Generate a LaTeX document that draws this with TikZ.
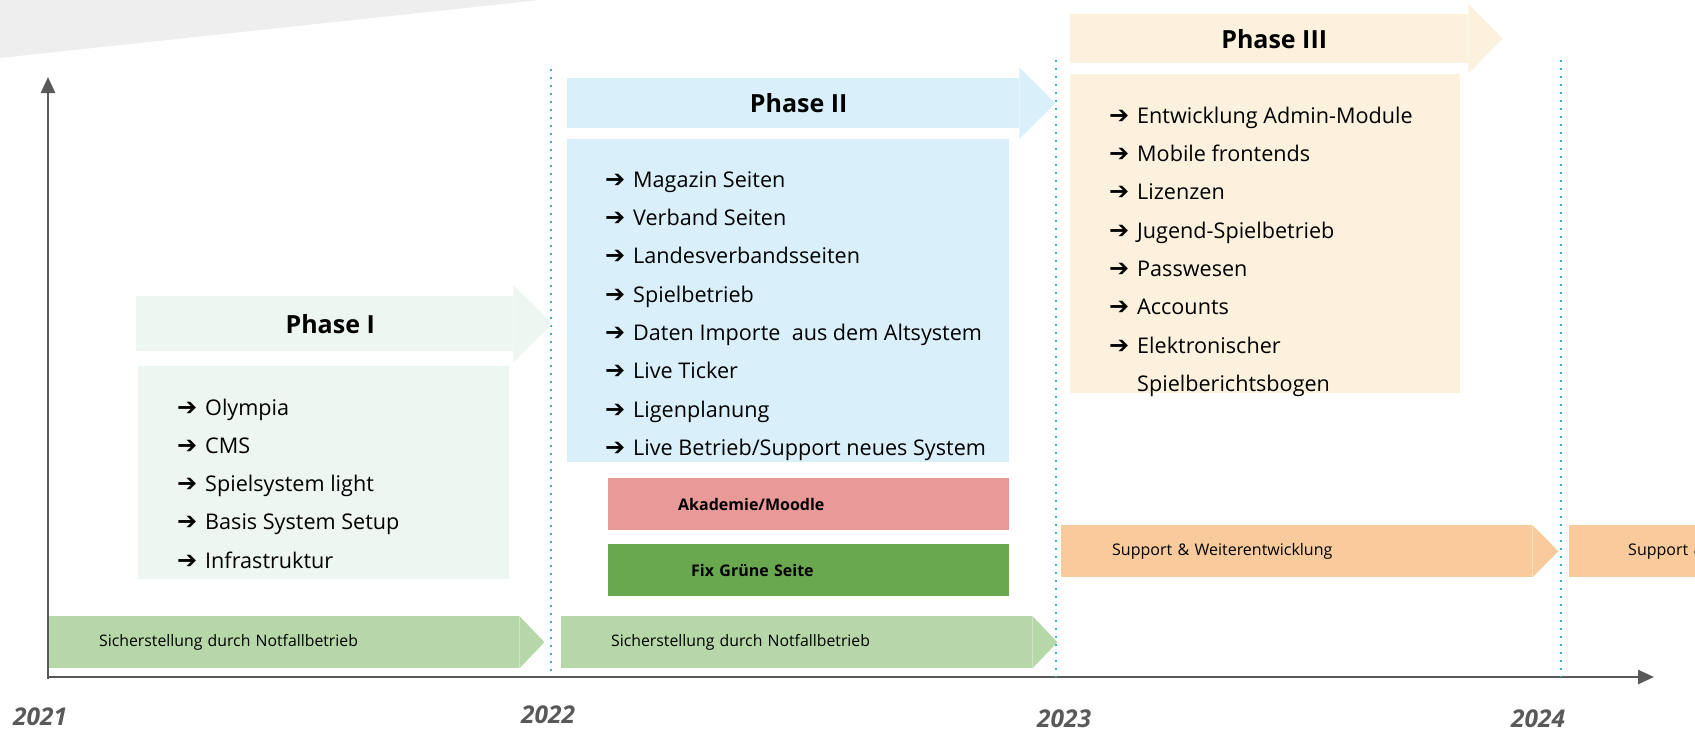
\documentclass[tikz,border=0pt]{standalone}
\usepackage{fontspec}
\setmainfont{Open Sans}
\newfontfamily\arrowfont{DejaVu Sans}
\usetikzlibrary{arrows.meta, positioning, calc}

\definecolor{phone}{HTML}{EDF6F0}
\definecolor{phtwo}{HTML}{D9F0FA}
\definecolor{phthree}{HTML}{FCF1DC}
\definecolor{akad}{HTML}{EA9999}
\definecolor{fixgreen}{HTML}{6AA84F}
\definecolor{sicher}{HTML}{B6D7A8}
\definecolor{support}{HTML}{F9CB9C}
\definecolor{axisgray}{HTML}{595959}
\definecolor{dotcol}{HTML}{31B6C5}
\definecolor{topgray}{HTML}{EEEEEE}

\newcommand{\pfeil}{\makebox[28pt][l]{\arrowfont\fontsize{24}{24}\selectfont ➔}}

\tikzset{
  phasehead/.style={inner sep=0, anchor=north west, font=\fontsize{25}{30}\selectfont\bfseries},
  phasebox/.style={inner sep=0, anchor=north west},
  entry/.style={anchor=base west, inner sep=0, font=\fontsize{21.6}{26}\selectfont},
  timebar/.style={anchor=north west, minimum height=52pt, inner ysep=0, align=left},
  barbold/.style={font=\fontsize{16}{19}\selectfont\bfseries},
  year/.style={anchor=base, font=\fontsize{24.5}{30}\selectfont\bfseries\itshape, text=axisgray},
  yearline/.style={dotcol, line width=2pt, dash pattern=on 2pt off 6pt},
  axis/.style={axisgray, line width=2.5pt, -{Triangle[length=16pt,width=14pt]}}
}

\begin{document}
\begin{tikzpicture}[x=1pt, y=-1pt]
  \useasboundingbox (0,0) rectangle (1695,731);
  \clip (0,0) rectangle (1695,731);

  % gray corner
  \fill[topgray] (0,0) -- (540,0) -- (0,58) -- cycle;

  % axes
  \coordinate (origin) at (48,679);
  \coordinate (ytop) at (48,77);
  \coordinate (xstart) at (47,677);
  \coordinate (xend) at (1654,677);
  \draw[axis] (origin) -- (ytop);
  \draw[axis] (xstart) -- (xend);

  % year separators
  \foreach \x/\top in {551/69, 1056/60, 1561/60} {
    \coordinate (s\x) at (\x,\top);
    \coordinate (e\x) at (\x,677);
    \draw[yearline] (s\x) -- (e\x);
  }

  % Phase I
  \node[phasehead, fill=phone, minimum width=377pt, minimum height=55pt] (ph1) at (136,296) {\hspace*{11pt}Phase I};
  \node[phasebox, fill=phone, minimum width=371pt, minimum height=213pt] (box1) at (138,366) {};
  \foreach \t [count=\i from 0] in {Olympia, CMS, Spielsystem light, Basis System Setup, Infrastruktur}
    \node[entry] (one\i) at (177, 415+38.3*\i) {\pfeil\t};

  % Phase II
  \node[phasehead, fill=phtwo, minimum width=452pt, minimum height=50pt] (ph2) at (567,78) {\hspace*{11pt}Phase II};
  \node[phasebox, fill=phtwo, minimum width=442pt, minimum height=323pt] (box2) at (567,139) {};
  \foreach \t [count=\i from 0] in {Magazin Seiten, Verband Seiten, Landesverbandsseiten, Spielbetrieb,
      Daten Importe~ aus dem Altsystem, Live Ticker, Ligenplanung, Live Betrieb/Support neues System}
    \node[entry] (two\i) at (605, 187.3+38.3*\i) {\pfeil\t};

  % Phase III
  \node[phasehead, fill=phthree, minimum width=398pt, minimum height=49pt] (ph3) at (1070,14) {\hspace*{10pt}Phase III};
  \node[phasebox, fill=phthree, minimum width=390pt, minimum height=319pt] (box3) at (1070,74) {};
  \foreach \t [count=\i from 0] in {Entwicklung Admin-Module, Mobile frontends, Lizenzen,
      Jugend-Spielbetrieb, Passwesen, Accounts, Elektronischer}
    \node[entry] (three\i) at (1109, 123.3+38.3*\i) {\pfeil\t};
  \node[entry] (three7) at (1137, 391.4) {Spielberichtsbogen};

  % phase arrow heads
  \foreach \n/\c/\e/\l in {ph1/phone/11/39, ph2/phtwo/10.5/36, ph3/phthree/10/34.5}
    \fill[\c] ($(\n.north east)+(0,-\e)$) -- ($(\n.east)+(\l,0)$) -- ($(\n.south east)+(0,\e)$) -- cycle;

  % side topics
  \node[timebar, barbold, fill=akad, text width=261pt, inner xsep=70pt] (akad) at (608,478) {Akademie/Moodle};
  \node[timebar, barbold, fill=fixgreen, text width=235pt, inner xsep=83pt] (fix) at (608,544) {Fix Grüne Seite};

  % running operation
  \node[timebar, fill=sicher, text width=370pt, inner xsep=50pt, font=\fontsize{15.8}{19}\selectfont] (sich1) at (49,616) {Sicherstellung durch Notfallbetrieb};
  \node[timebar, fill=sicher, text width=371pt, inner xsep=50pt, font=\fontsize{15.8}{19}\selectfont] (sich2) at (561,616) {Sicherstellung durch Notfallbetrieb};
  \node[timebar, fill=support, text width=369pt, inner xsep=51pt, font=\fontsize{16}{19}\selectfont] (sup1) at (1061,525) {Support \& Weiterentwicklung};
  \node[timebar, fill=support, text width=353pt, inner xsep=59pt, font=\fontsize{16}{19}\selectfont] (sup2) at (1569,525) {Support \& Weiterentwicklung};
  \foreach \n/\c/\l in {sich1/sicher/25, sich2/sicher/25, sup1/support/26, sup2/support/26}
    \fill[\c] (\n.north east) -- ($(\n.east)+(\l,0)$) -- (\n.south east) -- cycle;

  % years
  \node[year] (y21) at (40,725) {2021};
  \node[year] (y22) at (548,723) {2022};
  \node[year] (y23) at (1064,727) {2023};
  \node[year] (y24) at (1538,727) {2024};
\end{tikzpicture}
\end{document}
